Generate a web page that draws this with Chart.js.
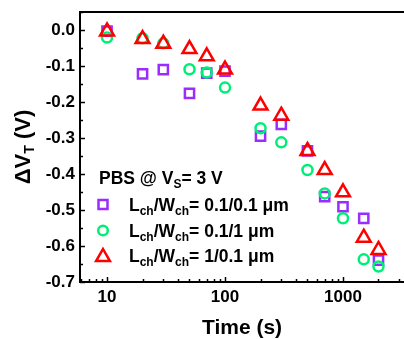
<!DOCTYPE html>
<html>
<head>
<meta charset="utf-8">
<script src="https://cdn.jsdelivr.net/npm/chart.js@4.4.0/dist/chart.umd.min.js"></script>
<style>
  html, body { margin: 0; padding: 0; background: #fff; overflow: hidden; }
  canvas { display: block; }
</style>
</head>
<body>
<canvas id="vtChart" width="404" height="339"></canvas>
<script>
// stress time in seconds
const times = [10, 20, 30, 50, 70, 100, 200, 300, 500, 700, 1000, 1500, 2000];
// threshold voltage shift (V) for each channel geometry
const dvtSmall = [-0.003, -0.122, -0.110, -0.176, -0.120, -0.114, -0.295, -0.262, -0.336, -0.463, -0.491, -0.523, -0.639];
const dvtWide = [-0.021, -0.023, -0.037, -0.109, -0.118, -0.160, -0.273, -0.312, -0.389, -0.454, -0.523, -0.637, -0.657];
const dvtLong = [-0.004, -0.025, -0.038, -0.053, -0.073, -0.110, -0.210, -0.238, -0.336, -0.389, -0.451, -0.577, -0.611];

const xTickLabels = [10, 100, 1000];
const yTickLabels = ['-0.7', '-0.6', '-0.5', '-0.4', '-0.3', '-0.2', '-0.1', '0.0'];

const legendTitle = ['PBS @ V', 'S', '= 3 V'];
const legendRows = [
    { main: 'L', sub: 'ch', mid: '/W', rest: '= 0.1/0.1 μm' },
    { main: 'L', sub: 'ch', mid: '/W', rest: '= 0.1/1 μm' },
    { main: 'L', sub: 'ch', mid: '/W', rest: '= 1/0.1 μm' }
];

const purple = '#9b2cff';
const green = '#00ee77';
const red = '#ff0000';

function pts(ys) {
    return times.map((t, i) => ({ x: t, y: ys[i] }));
}

const FONT = 'Arial, "Liberation Sans", sans-serif';
const BIG = 'bold 17.5px ' + FONT;
const SMALL = 'bold 12px ' + FONT;

// inward tick marks, top frame line, legend and y title
const decorations = {
    id: 'decorations',
    afterDraw(chart) {
        const ctx = chart.ctx;
        const area = chart.chartArea;
        const xs = chart.scales.x;
        const ys = chart.scales.y;
        ctx.save();
        ctx.strokeStyle = '#000';
        ctx.lineWidth = 2;
        ctx.beginPath();
        ctx.moveTo(area.left - 1, area.top);
        ctx.lineTo(area.right, area.top);
        ctx.stroke();

        ctx.lineWidth = 1.5;
        // x ticks
        for (let e = 0; e <= 3; e++) {
            for (let m = 1; m <= 9; m++) {
                const v = m * Math.pow(10, e);
                if (v < xs.min || v > xs.max) continue;
                const px = Math.round(xs.getPixelForValue(v)) + 0.5;
                const len = m === 1 ? 5 : 3;
                ctx.beginPath();
                ctx.moveTo(px, area.bottom);
                ctx.lineTo(px, area.bottom - len);
                ctx.stroke();
            }
        }
        // y ticks
        for (let k = -14; k <= 1; k++) {
            const v = k * 0.05;
            const py = Math.round(ys.getPixelForValue(v)) + 0.5;
            const len = (k % 2 === 0) ? 5 : 3;
            ctx.beginPath();
            ctx.moveTo(area.left, py);
            ctx.lineTo(area.left + len, py);
            ctx.stroke();
        }

        // legend
        ctx.fillStyle = '#000';
        ctx.textBaseline = 'alphabetic';
        ctx.textAlign = 'left';
        let x = 99;
        ctx.font = BIG;
        ctx.fillText(legendTitle[0], x, 184);
        x += ctx.measureText(legendTitle[0]).width;
        ctx.font = SMALL;
        ctx.fillText(legendTitle[1], x, 188);
        x += ctx.measureText(legendTitle[1]).width;
        ctx.font = BIG;
        ctx.fillText(legendTitle[2], x, 184);

        const colors = [purple, green, red];
        const styles = ['rect', 'circle', 'triangle'];
        const baselines = [211, 237, 262];
        legendRows.forEach((row, i) => {
            const by = baselines[i];
            const my = by - 6.5;
            ctx.strokeStyle = colors[i];
            ctx.lineWidth = 2.5;
            ctx.beginPath();
            if (styles[i] === 'rect') {
                ctx.rect(98.5, my - 4.5, 9, 9);
            } else if (styles[i] === 'circle') {
                ctx.arc(103, my, 4.8, 0, Math.PI * 2);
            } else {
                const r = 8;
                ctx.moveTo(103, my - r + 1.5);
                ctx.lineTo(103 + r * 0.866, my + r * 0.5 + 1.5);
                ctx.lineTo(103 - r * 0.866, my + r * 0.5 + 1.5);
                ctx.closePath();
            }
            ctx.stroke();

            let tx = 129;
            ctx.fillStyle = '#000';
            ctx.font = BIG;
            ctx.fillText(row.main, tx, by);
            tx += ctx.measureText(row.main).width;
            ctx.font = SMALL;
            ctx.fillText(row.sub, tx, by + 4);
            tx += ctx.measureText(row.sub).width;
            ctx.font = BIG;
            ctx.fillText(row.mid, tx, by);
            tx += ctx.measureText(row.mid).width;
            ctx.font = SMALL;
            ctx.fillText(row.sub, tx, by + 4);
            tx += ctx.measureText(row.sub).width;
            ctx.font = BIG;
            ctx.fillText(row.rest, tx, by);
        });

        // y axis title with subscript
        ctx.translate(30, 147);
        ctx.rotate(-Math.PI / 2);
        const partA = 'ΔV', partB = 'T', partC = ' (V)';
        ctx.font = 'bold 22px ' + FONT;
        const wA = ctx.measureText(partA).width;
        const wC = ctx.measureText(partC).width;
        ctx.font = 'bold 14px ' + FONT;
        const wB = ctx.measureText(partB).width;
        let ox = -(wA + wB + wC) / 2;
        ctx.font = 'bold 22px ' + FONT;
        ctx.fillText(partA, ox, 0);
        ox += wA;
        ctx.font = 'bold 14px ' + FONT;
        ctx.fillText(partB, ox, 4);
        ox += wB;
        ctx.font = 'bold 22px ' + FONT;
        ctx.fillText(partC, ox, 0);
        ctx.restore();
    }
};

const ctx = document.getElementById('vtChart').getContext('2d');
const vtChart = new Chart(ctx, {
    type: 'scatter',
    data: {
        datasets: [{
            label: 'Lch/Wch= 0.1/0.1 μm',
            data: pts(dvtSmall),
            pointStyle: 'rect',
            pointRadius: 6.5,
            borderColor: purple,
            backgroundColor: 'rgba(0,0,0,0)',
            borderWidth: 2.5,
            order: 3
        }, {
            label: 'Lch/Wch= 0.1/1 μm',
            data: pts(dvtWide),
            pointStyle: 'circle',
            pointRadius: 5,
            borderColor: green,
            backgroundColor: 'rgba(0,0,0,0)',
            borderWidth: 2.5,
            order: 2
        }, {
            label: 'Lch/Wch= 1/0.1 μm',
            data: pts(dvtLong),
            pointStyle: 'triangle',
            pointRadius: 8,
            borderColor: red,
            backgroundColor: 'rgba(0,0,0,0)',
            borderWidth: 2.5,
            order: 1
        }]
    },
    options: {
        responsive: false,
        animation: false,
        devicePixelRatio: 1,
        layout: { autoPadding: false, padding: { top: 12, left: 0, right: 0, bottom: 0 } },
        plugins: {
            legend: { display: false },
            tooltip: { enabled: false }
        },
        scales: {
            x: {
                type: 'logarithmic',
                min: 5.9,
                max: 3290,
                afterBuildTicks: (scale) => {
                    scale.ticks = xTickLabels.map(v => ({ value: v, major: true }));
                },
                afterFit: (scale) => {
                    scale.height = 57;
                    scale.paddingLeft = 0;
                    scale.paddingRight = 0;
                },
                grid: { drawOnChartArea: false, drawTicks: false },
                border: { display: true, color: '#000', width: 2 },
                ticks: {
                    autoSkip: false,
                    maxRotation: 0,
                    padding: 5,
                    color: '#000',
                    font: { family: FONT, size: 17, weight: 'bold' },
                    callback: (v) => String(v)
                },
                title: {
                    display: true,
                    text: 'Time (s)',
                    color: '#000',
                    padding: 0,
                    font: { family: FONT, size: 21, weight: 'bold', lineHeight: 1 }
                }
            },
            y: {
                min: -0.7,
                max: 0.05,
                afterBuildTicks: (scale) => {
                    scale.ticks = yTickLabels.map(s => ({ value: parseFloat(s) }));
                },
                afterFit: (scale) => {
                    scale.width = 80;
                    scale.paddingTop = 0;
                    scale.paddingBottom = 0;
                },
                grid: { drawOnChartArea: false, drawTicks: false },
                border: { display: true, color: '#000', width: 2 },
                ticks: {
                    padding: 5,
                    color: '#000',
                    font: { family: FONT, size: 17, weight: 'bold' },
                    callback: (v) => (Math.abs(v) < 1e-9 ? '0.0' : v.toFixed(1))
                }
            }
        }
    },
    plugins: [decorations]
});
</script>
</body>
</html>
